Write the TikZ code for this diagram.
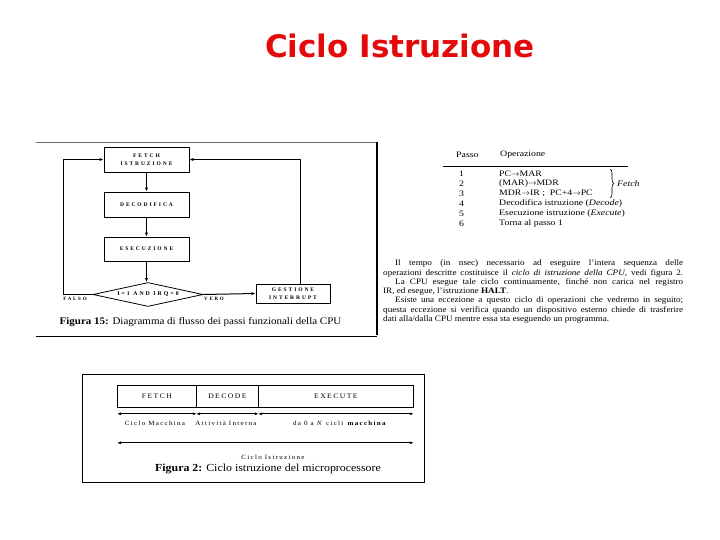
\documentclass[tikz,border=0pt]{standalone}
\usepackage{fontspec}
\setmainfont{Liberation Serif}[FakeStretch=1.1]
\newfontfamily\titlefont{DejaVu Sans}
\newfontfamily\tabfont{Liberation Serif}[FakeStretch=1.18]
\newfontfamily\spaced{Liberation Serif}[LetterSpace=35]
\newfontfamily\spacedb{Liberation Serif}[LetterSpace=20,FakeStretch=1.1]
\usetikzlibrary{shapes.geometric,arrows.meta,calc,decorations.pathreplacing}
\definecolor{titlered}{RGB}{228,10,10}
\begin{document}
\begin{tikzpicture}[x=1pt,y=-1pt,
  box/.style={draw, line width=0.8pt, inner sep=0pt, align=center,
    font=\spaced\bfseries\fontsize{5.5}{8.5}\selectfont},
  flow/.style={line width=1pt, -{Latex[length=4pt,width=3.2pt]}},
  lab/.style={inner sep=0pt, font=\spaced\bfseries\fontsize{5}{6}\selectfont},
  tab/.style={inner sep=0pt, anchor=west, font=\tabfont\fontsize{8.3}{9.5}\selectfont},
  para/.style={inner sep=0pt, anchor=north west, align=left, font=\fontsize{8.3}{9.25}\selectfont},
  bar/.style={draw, line width=0.8pt, inner sep=0pt, anchor=north west, minimum height=22pt,
    font=\spacedb\fontsize{7}{8}\selectfont},
  dim/.style={line width=1pt, {Latex[length=4pt,width=3pt]}-{Latex[length=4pt,width=3pt]}},
  small/.style={inner sep=0pt, font=\spacedb\fontsize{6.4}{7}\selectfont},
  captext/.style={inner sep=0pt, font=\fontsize{10}{12}\selectfont}]
\useasboundingbox (0,0) rectangle (720,540);

% title
\node[font=\titlefont\bfseries\fontsize{31}{36}\selectfont, text=titlered] (title) at (400,46) {Ciclo Istruzione};

% ---------- Figure 15 ----------
\draw[line width=0.6pt, black!60] (36,142) -- (377,142);
\draw[line width=1.6pt] (377,142) -- (377,335);
\draw[line width=1pt] (36,336) -- (377,336);

\node[box, minimum width=85pt, minimum height=25pt] (fetch) at (146.5,159.5) {FETCH\\ISTRUZIONE};
\node[box, minimum width=85pt, minimum height=25pt] (deco) at (146.5,204.5) {DECODIFICA};
\node[box, minimum width=85pt, minimum height=24pt] (exec) at (146.5,249) {ESECUZIONE};
\node[draw, diamond, aspect=4.4, line width=0.8pt, inner sep=0pt,
      minimum width=110pt, minimum height=24pt,
      font=\spaced\bfseries\fontsize{5.8}{6.5}\selectfont] (cond) at (148,294.5) {I=1 AND IRQ=0};
\node[box, minimum width=74pt, minimum height=19pt] (gest) at (293,293.5) {GESTIONE\\INTERRUPT};

\draw[flow] (fetch.south) -- (deco.north);
\draw[flow] (deco.south) -- (exec.north);
\draw[flow] (exec.south) -- ([xshift=-1.5pt]cond.north);
\draw[flow] (cond.west) -- ++(-29,0) |- (fetch.west);
\draw[flow] (cond.east) -- (gest.west);
\draw[flow] ([xshift=7pt]gest.north) |- (fetch.east);

\node[lab] (falso) at (75,299) {FALSO};
\node[lab] (vero) at (214,299) {VERO};
\node[captext] (cap15) at (200.5,322) {\textbf{Figura 15:} Diagramma di flusso dei passi funzionali della CPU};

% ---------- Table ----------
\node[tab] (hpasso) at (456,155) {Passo};
\node[tab] (hop) at (500,155) {Operazione};
\draw[line width=0.7pt] (443,166.5) -- (628,166.5);
\node[tab] (n1) at (459,173.5) {1};
\node[tab] (n2) at (459,183.5) {2};
\node[tab] (n3) at (459,193.5) {3};
\node[tab] (n4) at (459,203.5) {4};
\node[tab] (n5) at (459,213.5) {5};
\node[tab] (n6) at (459,223.5) {6};
\node[tab] (o1) at (499,173.5) {PC$\rightarrow$MAR};
\node[tab] (o2) at (499,183.5) {(MAR)$\rightarrow$MDR};
\node[tab] (o3) at (499,193.5) {MDR$\rightarrow$IR ;\ \ PC+4$\rightarrow$PC};
\node[tab] (o4) at (499,203.5) {Decodifica istruzione (\textit{Decode})};
\node[tab] (o5) at (499,213.5) {Esecuzione istruzione (\textit{Execute})};
\node[tab] (o6) at (499,223.5) {Torna al passo 1};
\draw[decorate, decoration={brace, amplitude=4pt}, line width=0.6pt] (610,169) -- (610,198);
\node[tab] (fetchlbl) at (617,184) {\textit{Fetch}};

% ---------- Paragraph ----------
\node[para] (par) at (383,260) {%
\hspace*{12pt}\makebox[288pt][s]{Il tempo (in nsec) necessario ad eseguire l’intera sequenza delle}\\
\makebox[300pt][s]{operazioni descritte costituisce il \textit{ciclo di istruzione della CPU}, vedi figura 2.}\\
\hspace*{12pt}\makebox[288pt][s]{La CPU esegue tale ciclo continuamente, finché non carica nel registro}\\
IR, ed esegue, l’istruzione \textbf{HALT}.\\
\hspace*{12pt}\makebox[288pt][s]{Esiste una eccezione a questo ciclo di operazioni che vedremo in seguito;}\\
\makebox[300pt][s]{questa eccezione si verifica quando un dispositivo esterno chiede di trasferire}\\
dati alla/dalla CPU mentre essa sta eseguendo un programma.};

% ---------- Figure 2 ----------
\draw[line width=0.7pt] (82,374) rectangle (424,482);
\node[bar, minimum width=79pt] (fb) at (117,385) {FETCH};
\node[bar, minimum width=62pt] (db) at (196,385) {DECODE};
\node[bar, minimum width=155pt] (eb) at (258,385) {EXECUTE};

\draw[dim] ($(fb.south west)+(0,6)$) -- ($(fb.south east)+(0,6)$);
\draw[dim] ($(db.south west)+(0,6)$) -- ($(db.south east)+(0,6)$);
\draw[dim] ($(eb.south west)+(0,6)$) -- ($(eb.south east)+(0,6)$);
\node[small] (l1) at (155,423) {Ciclo Macchina};
\node[small] (l2) at (226,423) {Attività Interna};
\node[small] (l3) at (340,423) {da 0 a \textit{N} cicli \textbf{macchina}};
\draw[dim] ($(fb.south west)+(0,35)$) -- ($(eb.south east)+(0,35)$);
\node[small] (l4) at (273,457) {Ciclo Istruzione};
\node[captext, font=\fontsize{10.8}{12}\selectfont] (cap2) at (268,469) {\textbf{Figura 2:} Ciclo istruzione del microprocessore};
\end{tikzpicture}
\end{document}
